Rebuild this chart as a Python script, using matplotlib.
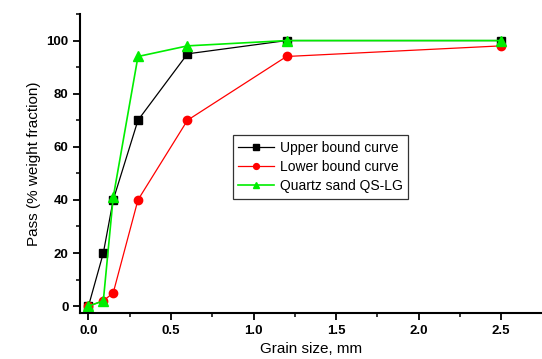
import matplotlib.pyplot as plt
from matplotlib.ticker import MultipleLocator

# grain size (mm) and percent passing
grain = [0.0, 0.09, 0.15, 0.3, 0.6, 1.2, 2.5]
upper = [0, 20, 40, 70, 95, 100, 100]
lower = [0, 2, 5, 40, 70, 94, 98]
quartz = [0, 2, 41, 94, 98, 100, 100]

plt.rcParams['font.family'] = ['Liberation Sans', 'DejaVu Sans']

fig = plt.figure(figsize=(5.42, 3.59), dpi=100)
ax = fig.add_axes([0.148, 0.128, 0.852, 0.833])

ax.plot(grain, upper, color="black", lw=0.9, marker="s", ms=5.5, label="Upper bound curve")
ax.plot(grain, lower, color="red", lw=0.9, marker="o", ms=6, label="Lower bound curve")
ax.plot(grain, quartz, color="#00ee00", lw=1.2, marker="^", ms=6.5, label="Quartz sand QS-LG")

ax.set_xlim(-0.05, 2.748)
ax.set_ylim(-2.6, 110)
ax.xaxis.set_major_locator(MultipleLocator(0.5))
ax.xaxis.set_minor_locator(MultipleLocator(0.25))
ax.yaxis.set_major_locator(MultipleLocator(20))
ax.yaxis.set_minor_locator(MultipleLocator(10))
ax.set_xticks([0, 0.5, 1.0, 1.5, 2.0, 2.5])
ax.set_xticklabels(["0.0", "0.5", "1.0", "1.5", "2.0", "2.5"])

for s in ("top", "right"):
    ax.spines[s].set_visible(False)
for s in ("left", "bottom"):
    ax.spines[s].set_linewidth(1.5)
ax.tick_params(which="major", direction="out", length=5, width=1.3, labelsize=9.5)
ax.tick_params(which="minor", direction="out", length=3, width=1.1)
for lab in ax.get_xticklabels() + ax.get_yticklabels():
    lab.set_fontweight("bold")

ax.set_xlabel("Grain size, mm", fontsize=11)
ax.set_ylabel("Pass (% weight fraction)", fontsize=11)

leg = ax.legend(loc="upper left", bbox_to_anchor=(0.315, 0.618), frameon=True,
                fancybox=False, edgecolor="black", fontsize=10, markerscale=0.7,
                handlelength=2.6, handletextpad=0.4, borderpad=0.4, labelspacing=0.38)
leg.get_frame().set_linewidth(0.9)

fig.savefig("out.png", dpi=100)
